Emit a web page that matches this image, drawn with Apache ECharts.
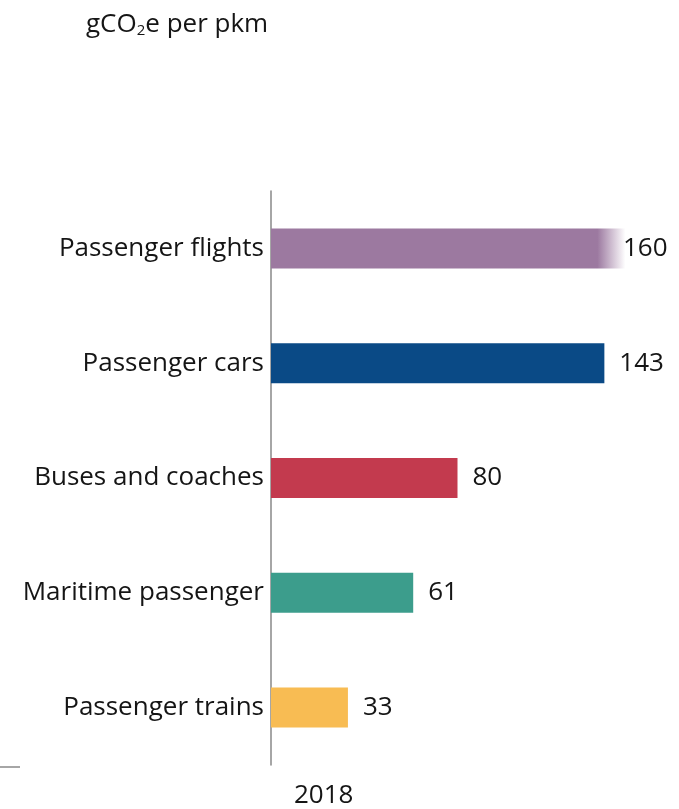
<!DOCTYPE html>
<html>
<head>
<meta charset="utf-8">
<script src="https://cdn.jsdelivr.net/npm/echarts@6/dist/echarts.min.js"></script>
<style>
  html, body { margin: 0; padding: 0; background: #fff; }
  #chart { width: 679px; height: 809px; }
</style>
</head>
<body>
<div id="chart"></div>
<script>
const categories = ['Passenger flights', 'Passenger cars', 'Buses and coaches', 'Maritime passenger', 'Passenger trains'];
const values = [160, 143, 80, 61, 33];
const colors = ['#9c79a0', '#0a4a86', '#c33a4e', '#3c9d8c', '#f8bc53'];
const yearLabel = '2018';

const font = '"Open Sans", "Noto Sans", sans-serif';

// flights bar fades out at its end (broken bar in the original)
const flightFade = new echarts.graphic.LinearGradient(0, 0, 1, 0, [
  { offset: 0, color: '#9c79a0' },
  { offset: 0.875, color: '#9c79a0' },
  { offset: 0.95, color: 'rgba(156,121,160,0)' },
  { offset: 1, color: 'rgba(156,121,160,0)' }
]);

const chart = echarts.init(document.getElementById('chart'));
chart.setOption({
  backgroundColor: '#fff',
  animation: false,
  grid: { left: 271, top: 191, width: 373, height: 574 },
  xAxis: {
    type: 'value',
    min: 0,
    max: 160,
    show: false
  },
  yAxis: {
    type: 'category',
    inverse: true,
    data: categories,
    axisLine: { show: true, lineStyle: { color: '#888', width: 1.5 } },
    axisTick: { show: false },
    axisLabel: { color: '#151515', fontSize: 26, fontFamily: font, margin: 7 }
  },
  series: [{
    type: 'bar',
    barWidth: 40,
    data: values.map((v, i) => ({
      value: v,
      itemStyle: { color: i === 0 ? flightFade : colors[i] },
      label: i === 0 ? { offset: [-36, 0] } : {}
    })),
    label: {
      show: true,
      position: 'right',
      distance: 15,
      color: '#151515',
      fontSize: 26,
      fontFamily: font
    }
  }],
  graphic: [
    {
      type: 'text',
      left: 86,
      top: 12,
      style: {
        text: '{a|gCO}{s|2}{a|e per pkm}',
        rich: {
          a: { fontSize: 26, fontFamily: font, fill: '#151515' },
          s: { fontSize: 15, fontFamily: font, fill: '#151515', verticalAlign: 'bottom', padding: [12, 0, 0, 0] }
        }
      }
    },
    {
      type: 'text',
      left: 294,
      top: 783,
      style: { text: yearLabel, fontSize: 26, fontFamily: font, fill: '#151515' }
    },
    {
      type: 'line',
      shape: { x1: 0, y1: 767, x2: 20, y2: 767 },
      style: { stroke: '#888', lineWidth: 1.5 }
    }
  ]
});
</script>
</body>
</html>
